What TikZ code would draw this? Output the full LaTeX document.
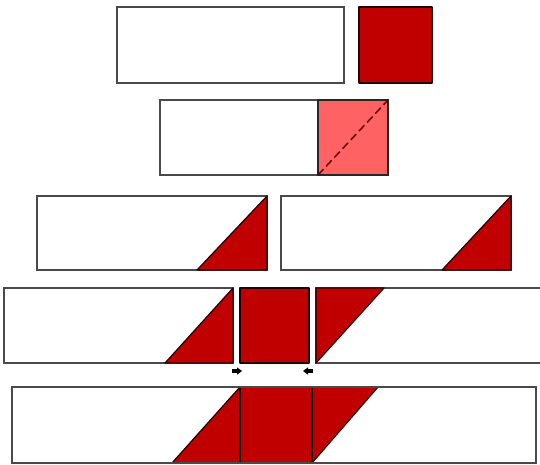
\documentclass[tikz,border=0pt]{standalone}
\usepackage{tikz}
\usetikzlibrary{arrows.meta}
\definecolor{dred}{HTML}{C00000}
\definecolor{pinkred}{HTML}{FF6262}
\definecolor{edge}{HTML}{4A4A4A}
\begin{document}
\begin{tikzpicture}[x=1pt,y=-1pt,
  strip/.style={draw=edge,line width=2.4pt,fill=white},
  redpart/.style={fill=dred,draw=black!80!dred,line width=1.2pt,line join=round},
  pushtip/.style={-{Triangle[length=5pt,width=7pt]},line width=3.5pt,black}]
\useasboundingbox (0,0) rectangle (540,464);
% row 1
\draw[strip] (117,7) rectangle (344,83);
\draw[redpart,line width=1.6pt] (359,7) rectangle (432,83);
% row 2
\draw[strip] (160,100) rectangle (388,175);
\draw[fill=pinkred,draw=black!85,line width=2pt] (318,100) rectangle (388,175);
\draw[dred!60!black,line width=1.6pt,dash pattern=on 8pt off 4pt] (318,175) -- (388,100);
% row 3
\draw[strip] (37,196) rectangle (267,270);
\draw[redpart] (197,270) -- (267,270) -- (267,196) -- cycle;
\draw[strip] (281,196) rectangle (511,270);
\draw[redpart] (442,270) -- (511,270) -- (511,196) -- cycle;
% row 4
\draw[strip] (4,288) rectangle (233,363);
\draw[redpart] (165,363) -- (233,363) -- (233,288) -- cycle;
\draw[redpart] (240,288) rectangle (309,363);
\fill[white] (316,288) rectangle (545,363);
\draw[draw=edge,line width=2.4pt] (545,288) -- (316,288) -- (316,363) -- (545,363);
\draw[redpart] (316,288) -- (384,288) -- (316,363) -- cycle;
\coordinate (a1) at (232,371);
\coordinate (a2) at (242,371);
\coordinate (b1) at (313,371);
\coordinate (b2) at (303,371);
\draw[pushtip] (a1) -- (a2);
\draw[pushtip] (b1) -- (b2);
% row 5
\draw[strip] (12,387) rectangle (536,463);
\draw[redpart] (172,463) -- (240,387) -- (378,387) -- (312,463) -- cycle;
\draw[black,line width=1.2pt] (240,387) -- (240,463);
\draw[black,line width=1.2pt] (312,387) -- (312,463);
\draw[draw=edge,line width=2.4pt] (12,387) rectangle (536,463);
\end{tikzpicture}
\end{document}
